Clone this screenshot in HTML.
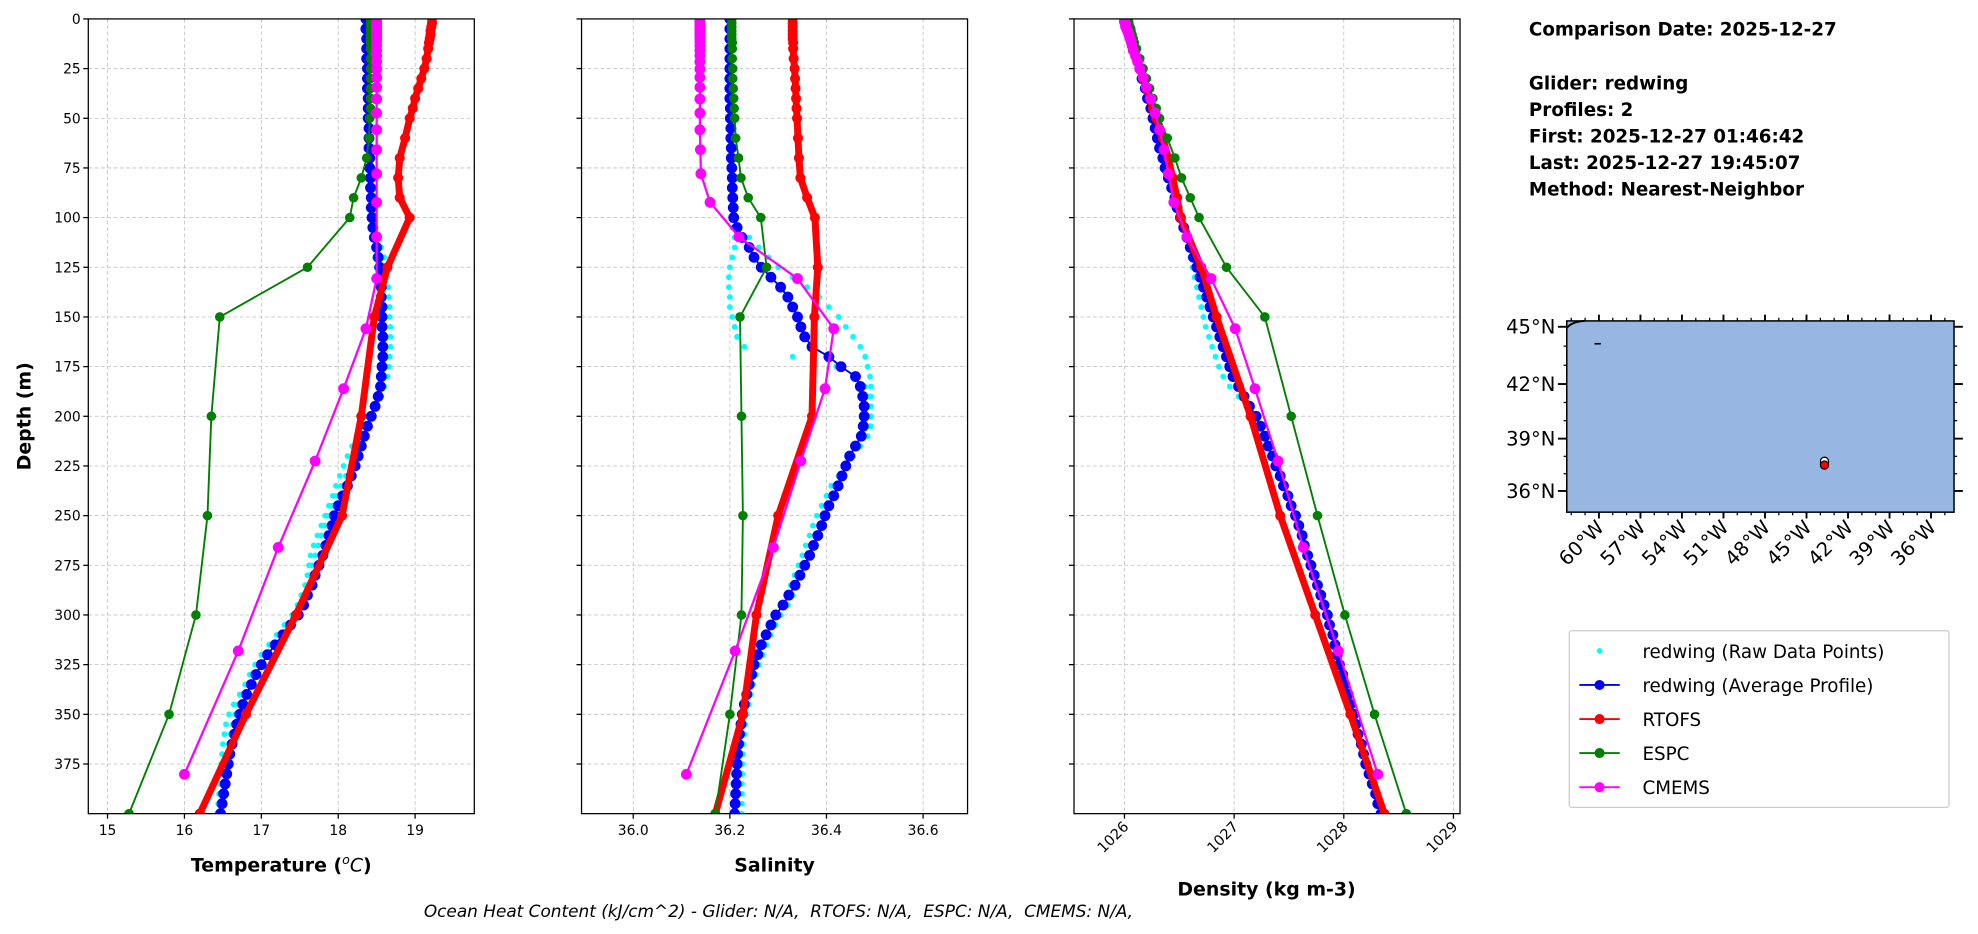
<!DOCTYPE html>
<html><head><meta charset="utf-8"><style>
html,body{margin:0;padding:0;background:#fff;}
svg{display:block;font-family:"DejaVu Sans","Liberation Sans",sans-serif;}
</style></head><body>
<svg id="fig" width="1978" height="934" viewBox="0 0 1568 740.4" xmlns="http://www.w3.org/2000/svg">
<defs>
<clipPath id="c1"><rect x="70" y="15" width="306" height="630"/></clipPath>
<clipPath id="c2"><rect x="461" y="15" width="306" height="630"/></clipPath>
<clipPath id="c3"><rect x="851.4" y="15" width="306" height="630"/></clipPath>
</defs>
<g id="grid"></g>
<g id="marks"></g>
<g id="axes"></g>
<g font-weight="bold" font-size="14.5">
<text x="1212" y="28">Comparison Date: 2025-12-27</text>
<text x="1212" y="71">Glider: redwing</text>
<text x="1212" y="92">Profiles: 2</text>
<text x="1212" y="113">First: 2025-12-27 01:46:42</text>
<text x="1212" y="134">Last: 2025-12-27 19:45:07</text>
<text x="1212" y="155">Method: Nearest-Neighbor</text>
</g>
<g id="map"></g>
<g id="legend"></g>
<text x="336" y="727" font-size="13.4" font-style="italic" xml:space="preserve" style="white-space:pre">Ocean Heat Content (kJ/cm^2) - Glider: N/A,  RTOFS: N/A,  ESPC: N/A,  CMEMS: N/A,</text>
</svg>
<script>
const modelDepths=[0,2,4,6,8,10,12,15,20,25,30,35,40,45,50,60,70,80,90,100,125,150,200,250,300,350,400];
const cmemsDepths=[0.5,1.5,2.6,3.8,5.1,6.4,7.9,9.6,11.4,13.5,15.8,18.5,21.6,25.2,29.4,34.4,40.3,47.4,55.8,65.8,77.9,92.3,109.7,130.7,155.9,186.1,222.5,266.0,318.1,380.2];
const gliderStep=5;
// Temperature
const rtofsT=[19.22,19.22,19.21,19.2,19.2,19.19,19.18,19.17,19.15,19.12,19.08,19.04,19.0,18.97,18.93,18.87,18.8,18.78,18.8,18.93,18.64,18.47,18.3,18.05,17.45,16.8,16.2];
const espcT=[18.42,18.42,18.42,18.42,18.42,18.42,18.42,18.42,18.42,18.42,18.42,18.42,18.42,18.42,18.41,18.4,18.37,18.3,18.2,18.15,17.6,16.46,16.35,16.3,16.15,15.8,15.28];
const cmemsT=[18.5,18.5,18.5,18.5,18.5,18.5,18.5,18.5,18.5,18.5,18.5,18.5,18.5,18.5,18.5,18.5,18.5,18.5,18.5,18.5,18.5,18.5,18.5,18.5,18.36,18.07,17.7,17.22,16.7,16.0];
const avgT=[18.36,18.36,18.37,18.37,18.37,18.38,18.38,18.38,18.39,18.39,18.39,18.40,18.40,18.40,18.41,18.41,18.42,18.42,18.43,18.43,18.44,
18.45,18.47,18.5,18.52,18.54,18.55,18.56,18.56,18.57,18.57,18.57,18.58,18.58,18.58,18.57,18.56,18.55,18.52,18.48,18.43,
18.38,18.34,18.30,18.26,18.22,18.17,18.12,18.06,18.0,17.95,17.92,17.88,17.84,17.8,17.75,17.7,17.66,17.6,17.55,17.48,
17.38,17.28,17.18,17.08,17.0,16.93,16.87,16.81,16.76,16.72,16.68,16.65,16.62,16.59,16.57,16.55,16.53,16.51,16.49,16.47];
const rawAT=[18.38,18.38,18.39,18.39,18.39,18.4,18.4,18.4,18.41,18.41,18.41,18.42,18.42,18.42,18.43,18.43,18.44,18.44,18.45,18.45,18.46,
18.48,18.52,18.56,18.6,18.62,18.64,18.65,18.66,18.67,18.67,18.68,18.68,18.68,18.67,18.66,18.64,18.6,18.56,18.5,18.44,
18.38,18.32,18.27,18.22,18.16,18.1,18.04,17.98,17.92,17.86,17.82,17.78,17.74,17.7,17.66,17.62,17.58,17.52,17.47,17.4,
17.3,17.2,17.1,17.0,16.92,16.85,16.79,16.74,16.7,16.66,16.63,16.6,16.58,16.56,16.54,16.52,16.5,16.48,16.46,16.44];
const rawBT=[18.33,18.33,18.34,18.34,18.35,18.35,18.35,18.36,18.36,18.36,18.37,18.37,18.37,18.38,18.38,18.39,18.39,18.4,18.4,18.41,18.41,
18.42,18.44,18.46,18.48,18.5,18.52,18.53,18.54,18.55,18.56,18.57,18.58,18.6,18.61,18.6,18.58,18.55,18.5,18.45,18.38,
18.3,18.24,18.18,18.12,18.07,18.02,17.97,17.93,17.88,17.83,17.78,17.73,17.68,17.64,17.62,17.6,17.57,17.53,17.48,17.42,
17.32,17.22,17.12,17.03,16.95,16.88,16.8,16.72,16.64,16.58,16.54,16.52,16.5,16.49,16.48,16.47,16.46,16.45,16.44,16.43];
// Salinity
const rtofsS=[36.33,36.33,36.33,36.33,36.33,36.33,36.331,36.331,36.332,36.334,36.335,36.336,36.337,36.338,36.339,36.341,36.343,36.346,36.36,36.376,36.382,36.375,36.37,36.30,36.255,36.227,36.17];
const espcS=[36.204,36.204,36.204,36.204,36.204,36.204,36.205,36.205,36.205,36.206,36.206,36.207,36.208,36.209,36.21,36.212,36.218,36.223,36.238,36.264,36.276,36.221,36.224,36.227,36.224,36.2,36.17];
const cmemsS=[36.138,36.138,36.138,36.138,36.138,36.138,36.138,36.138,36.138,36.138,36.138,36.138,36.138,36.138,36.138,36.138,36.138,36.138,36.138,36.139,36.14,36.159,36.219,36.34,36.415,36.397,36.347,36.29,36.211,36.11];
const avgS=[36.20,36.20,36.20,36.20,36.20,36.20,36.20,36.20,36.20,36.201,36.201,36.202,36.202,36.203,36.203,36.204,36.205,36.205,36.206,36.207,36.208,
36.215,36.225,36.24,36.25,36.265,36.285,36.305,36.32,36.33,36.34,36.347,36.355,36.37,36.405,36.43,36.46,36.47,36.475,36.478,36.478,
36.476,36.472,36.46,36.448,36.44,36.432,36.424,36.415,36.405,36.397,36.39,36.382,36.373,36.365,36.355,36.345,36.335,36.322,36.31,36.295,
36.285,36.275,36.265,36.258,36.25,36.245,36.24,36.235,36.23,36.226,36.223,36.22,36.218,36.216,36.215,36.214,36.213,36.212,36.211,36.21];
const rawAS=[36.2,36.2,36.199,36.199,36.2,36.2,36.2,36.2,36.2,36.2,36.201,36.201,36.201,36.202,36.202,36.203,36.203,36.204,36.204,36.205,36.205,
36.205,36.21,36.21,36.205,36.2,36.198,36.198,36.2,36.2,36.205,36.21,36.215,36.23,36.33,36.42,36.46,36.48,36.485,36.49,36.49,
36.49,36.485,36.47,36.455,36.445,36.435,36.425,36.415,36.405,36.395,36.39,36.385,36.375,36.37,36.36,36.35,36.34,36.33,36.32,36.305,
36.295,36.28,36.27,36.26,36.252,36.245,36.24,36.235,36.23,36.228,36.225,36.222,36.22,36.218,36.217,36.216,36.215,36.214,36.213,36.212];
const rawBS=[36.205,36.205,36.206,36.206,36.206,36.206,36.206,36.207,36.207,36.207,36.207,36.208,36.208,36.208,36.209,36.209,36.21,36.21,36.21,36.211,36.212,
36.22,36.24,36.26,36.28,36.3,36.33,36.36,36.385,36.405,36.425,36.44,36.455,36.47,36.48,36.485,36.49,36.492,36.492,36.492,36.492,
36.492,36.485,36.47,36.455,36.44,36.425,36.41,36.4,36.39,36.38,36.372,36.365,36.357,36.35,36.342,36.334,36.326,36.318,36.31,36.3,
36.292,36.284,36.276,36.268,36.26,36.254,36.248,36.243,36.239,36.235,36.232,36.23,36.228,36.227,36.226,36.226,36.225,36.225,36.225,36.225];
// Density
const rtofsD=[1026.0,1026.01,1026.02,1026.03,1026.04,1026.05,1026.06,1026.08,1026.11,1026.14,1026.17,1026.2,1026.23,1026.26,1026.29,1026.35,1026.4,1026.44,1026.48,1026.51,1026.7,1026.84,1027.15,1027.42,1027.74,1028.06,1028.37];
const espcD=[1026.03,1026.04,1026.05,1026.06,1026.07,1026.08,1026.09,1026.11,1026.14,1026.17,1026.2,1026.23,1026.26,1026.29,1026.32,1026.39,1026.46,1026.52,1026.6,1026.68,1026.93,1027.28,1027.52,1027.76,1028.01,1028.28,1028.57];
const cmemsD=[1026.0,1026.0,1026.01,1026.01,1026.02,1026.03,1026.04,1026.05,1026.06,1026.07,1026.08,1026.1,1026.12,1026.14,1026.17,1026.2,1026.24,1026.28,1026.32,1026.36,1026.4,1026.45,1026.57,1026.79,1027.01,1027.19,1027.4,1027.63,1027.95,1028.31];
const avgD=[1026.03,1026.05,1026.07,1026.09,1026.12,1026.14,1026.16,1026.19,1026.21,1026.24,1026.26,1026.28,1026.3,1026.32,1026.35,1026.37,1026.4,1026.43,1026.46,1026.48,1026.51,
1026.54,1026.57,1026.6,1026.63,1026.66,1026.69,1026.72,1026.75,1026.78,1026.81,1026.84,1026.87,1026.9,1026.93,1026.96,1026.99,1027.04,1027.09,1027.14,1027.2,
1027.24,1027.28,1027.31,1027.35,1027.38,1027.42,1027.45,1027.49,1027.52,1027.56,1027.59,1027.62,1027.64,1027.67,1027.7,1027.73,1027.76,1027.79,1027.82,1027.85,
1027.87,1027.9,1027.92,1027.94,1027.96,1027.99,1028.01,1028.04,1028.06,1028.09,1028.11,1028.13,1028.16,1028.18,1028.2,1028.23,1028.26,1028.29,1028.31,1028.34];
const rawAD=[1026.01,1026.03,1026.05,1026.07,1026.1,1026.12,1026.14,1026.17,1026.19,1026.22,1026.24,1026.26,1026.28,1026.3,1026.33,1026.35,1026.38,1026.41,1026.44,1026.46,1026.49,
1026.52,1026.55,1026.58,1026.6,1026.62,1026.64,1026.66,1026.68,1026.7,1026.72,1026.74,1026.77,1026.8,1026.83,1026.86,1026.9,1026.96,1027.04,1027.11,1027.18,
1027.22,1027.26,1027.29,1027.33,1027.36,1027.4,1027.43,1027.47,1027.5,1027.54,1027.57,1027.6,1027.62,1027.65,1027.68,1027.71,1027.74,1027.77,1027.8,1027.83,
1027.85,1027.88,1027.9,1027.92,1027.94,1027.97,1027.99,1028.02,1028.04,1028.07,1028.09,1028.11,1028.14,1028.16,1028.18,1028.21,1028.24,1028.27,1028.29,1028.32];
const rawBD=[1026.05,1026.07,1026.09,1026.11,1026.14,1026.16,1026.18,1026.21,1026.23,1026.26,1026.28,1026.3,1026.32,1026.34,1026.37,1026.39,1026.42,1026.45,1026.48,1026.5,1026.53,
1026.56,1026.59,1026.62,1026.65,1026.68,1026.71,1026.74,1026.77,1026.8,1026.83,1026.86,1026.89,1026.92,1026.95,1026.98,1027.01,1027.06,1027.11,1027.16,1027.22,
1027.26,1027.3,1027.33,1027.37,1027.4,1027.44,1027.47,1027.51,1027.54,1027.58,1027.61,1027.64,1027.66,1027.69,1027.72,1027.75,1027.78,1027.81,1027.84,1027.87,
1027.89,1027.92,1027.94,1027.96,1027.98,1028.01,1028.03,1028.06,1028.08,1028.11,1028.13,1028.15,1028.18,1028.2,1028.22,1028.25,1028.28,1028.31,1028.33,1028.36];
// Ticks
const depthTicks=[0,25,50,75,100,125,150,175,200,225,250,275,300,325,350,375];
const tempTicks=[15,16,17,18,19];
const salTicks=[36.0,36.2,36.4,36.6];
const salTickLabels=["36.0","36.2","36.4","36.6"];
const denTicks=[1026,1027,1028,1029];
const lonTicks=[-60,-57,-54,-51,-48,-45,-42,-39,-36];
const latTicks=[45,42,39,36];
const gliderLon=[-43.7,-43.7];
const gliderLat=[37.72,37.5];

const NS="http://www.w3.org/2000/svg";
function mk(tag,attrs,parent){const e=document.createElementNS(NS,tag);for(const k in attrs)e.setAttribute(k,attrs[k]);parent.appendChild(e);return e;}
const top0=15,bot0=645,H=630;
const yD=d=>top0+d*H/400;
const panels=[
 {x0:70,x1:376,lo:14.75,hi:19.77,clip:'c1',name:'temperature'},
 {x0:461,x1:767,lo:35.893,hi:36.692,clip:'c2',name:'salinity'},
 {x0:851.4,x1:1157.4,lo:1025.54,hi:1029.06,clip:'c3',name:'density'}];
panels.forEach(p=>{p.x=v=>p.x0+(v-p.lo)/(p.hi-p.lo)*(p.x1-p.x0);});
const grid=document.getElementById('grid'),marks=document.getElementById('marks'),axes=document.getElementById('axes');
const xt=[tempTicks,salTicks,denTicks];
panels.forEach((p,i)=>{
 const g=mk('g',{},grid);
 
 
 depthTicks.forEach(d=>{mk('line',{x1:p.x0,x2:p.x1,y1:yD(d),y2:yD(d),stroke:'#bdbdbd','stroke-width':0.6,'stroke-dasharray':'3,2'},g);});
 xt[i].forEach(v=>{mk('line',{x1:p.x(v),x2:p.x(v),y1:top0,y2:bot0,stroke:'#bdbdbd','stroke-width':0.6,'stroke-dasharray':'3,2'},g);});
});
function series(p,depths,vals,color,lw,r,name,noLine){
 const g=mk('g',{'clip-path':'url(#'+p.clip+')'},marks);
 
 
 const pts=vals.map((v,k)=>[p.x(v),yD(depths[k])]);
 if(!noLine)mk('polyline',{points:pts.map(q=>q.join(',')).join(' '),fill:'none',stroke:color,'stroke-width':lw,'stroke-linejoin':'round'},g);
 pts.forEach(q=>mk('circle',{cx:q[0],cy:q[1],r:r,fill:color},g));
}
const gDepths=avgT.map((_,k)=>k*gliderStep);
const sets=[[rawAT,rawBT,avgT,rtofsT,espcT,cmemsT],[rawAS,rawBS,avgS,rtofsS,espcS,cmemsS],[rawAD,rawBD,avgD,rtofsD,espcD,cmemsD]];
panels.forEach((p,i)=>{
 const s=sets[i];
 series(p,gDepths,s[0],'#00ffff',0,2.3,p.name+'-raw-profile-1',true);
 series(p,gDepths,s[1],'#00ffff',0,2.3,p.name+'-raw-profile-2',true);
 series(p,gDepths,s[2],'#0000ff',1.5,4.3,p.name+'-glider-average');
 series(p,modelDepths,s[3],'#ff0000',5.5,4,p.name+'-rtofs');
 series(p,modelDepths,s[4],'#008000',1.5,3.8,p.name+'-espc');
 series(p,cmemsDepths,s[5],'#ff00ff',1.8,4.3,p.name+'-cmems');
});
panels.forEach((p,i)=>{
 const g=mk('g',{},axes);
 
 
 mk('rect',{x:p.x0,y:top0,width:p.x1-p.x0,height:H,fill:'none',stroke:'#000','stroke-width':1},g);
 depthTicks.forEach(d=>{
  mk('line',{x1:p.x0-4,x2:p.x0,y1:yD(d),y2:yD(d),stroke:'#000','stroke-width':1},g);
  if(i===0){const t=mk('text',{x:p.x0-6,y:yD(d)+4,'font-size':11,'text-anchor':'end'},g);t.textContent=d;}
 });
 xt[i].forEach((v,k)=>{
  const x=p.x(v);
  mk('line',{x1:x,x2:x,y1:bot0,y2:bot0+4,stroke:'#000','stroke-width':1},g);
  let t;
  if(i===2){t=mk('text',{x:x+4,y:bot0+11,'font-size':11.5,'text-anchor':'end',transform:'rotate(-45 '+(x+4)+' '+(bot0+11)+')'},g);t.textContent=v;}
  else{t=mk('text',{x:x,y:bot0+17,'font-size':11,'text-anchor':'middle'},g);t.textContent=i===1?salTickLabels[k]:v;}
 });
});
const yl=mk('text',{x:0,y:0,'font-size':15,'font-weight':'bold','text-anchor':'middle',transform:'translate(24 330) rotate(-90)'},axes);


yl.textContent='Depth (m)';
const xl1=mk('text',{x:223,y:691,'font-size':15,'font-weight':'bold','text-anchor':'middle'},axes);


xl1.innerHTML='Temperature (<tspan font-style="italic" font-weight="normal" font-size="10" dy="-6">o</tspan><tspan dy="6" font-style="italic" font-weight="normal">C</tspan>)';
const xl2=mk('text',{x:614,y:691,'font-size':15,'font-weight':'bold','text-anchor':'middle'},axes);


xl2.textContent='Salinity';
const xl3=mk('text',{x:1004,y:710,'font-size':15,'font-weight':'bold','text-anchor':'middle'},axes);


xl3.textContent='Density (kg m-3)';
const map=document.getElementById('map');
const mx0=1242,mx1=1549,my0=254.4,my1=406;
const merc=l=>Math.log(Math.tan(Math.PI/4+l*Math.PI/360));
const lonX=l=>1267.5+(l+60)*10.97;
const latY=l=>389.2-(merc(l)-merc(36))*628.5;
mk('rect',{x:mx0,y:my0,width:mx1-mx0,height:my1-my0,fill:'#97b6e1',stroke:'#000','stroke-width':1.2},map);
mk('path',{d:'M1242,260 Q1246,255 1256,254.4',fill:'none',stroke:'#000','stroke-width':1.5},map);
mk('line',{x1:1264,x2:1269,y1:272.5,y2:272.5,stroke:'#000','stroke-width':1.3},map);
for(let l=-62;l<=-35;l++){const x=lonX(l);const maj=lonTicks.includes(l);const len=maj?5:2.5;
 mk('line',{x1:x,x2:x,y1:my0-len,y2:my0,stroke:'#000','stroke-width':maj?1.5:1},map);
 mk('line',{x1:x,x2:x,y1:my1,y2:my1+len,stroke:'#000','stroke-width':maj?1.5:1},map);}
for(let l=36;l<=45;l++){const y=latY(l);const maj=latTicks.includes(l);const len=maj?7:2.5;
 mk('line',{x1:mx0-len,x2:mx0,y1:y,y2:y,stroke:'#000','stroke-width':maj?1.5:1},map);
 mk('line',{x1:mx1,x2:mx1+len,y1:y,y2:y,stroke:'#000','stroke-width':maj?1.5:1},map);}
latTicks.forEach(l=>{const t=mk('text',{x:mx0-9,y:latY(l)+5.5,'font-size':15.5,'text-anchor':'end'},map);
 
 
 t.textContent=l+'°N';});
lonTicks.forEach(l=>{const x=lonX(l)+5,y=my1+13;const t=mk('text',{x:x,y:y,'font-size':15.5,'text-anchor':'end',transform:'rotate(-45 '+x+' '+y+')'},map);
 
 
 t.textContent=(-l)+'°W';});
const wd=mk('circle',{cx:lonX(gliderLon[0]),cy:latY(gliderLat[0]),r:3.2,fill:'#fff',stroke:'#000','stroke-width':1},map);


const rd=mk('circle',{cx:lonX(gliderLon[1]),cy:latY(gliderLat[1]),r:3.2,fill:'#ff0000',stroke:'#000','stroke-width':1},map);


const lg=document.getElementById('legend');
mk('rect',{x:1244,y:500,width:301,height:140,fill:'#fff',stroke:'#ccc','stroke-width':1,rx:2},lg);
const entries=[['redwing (Raw Data Points)','#00ffff',false],['redwing (Average Profile)','#0000ff',true],['RTOFS','#ff0000',true],['ESPC','#008000',true],['CMEMS','#ff00ff',true]];
entries.forEach((e,k)=>{const y=516+k*27;const g=mk('g',{},lg);
 
 
 if(e[2])mk('line',{x1:1252,x2:1284,y1:y,y2:y,stroke:e[1],'stroke-width':1.5},g);
 mk('circle',{cx:1268,cy:y,r:e[2]?4:2.3,fill:e[1]},g);
 const t=mk('text',{x:1302,y:y+5.5,'font-size':14.5},g);t.textContent=e[0];});
</script>
</body></html>
